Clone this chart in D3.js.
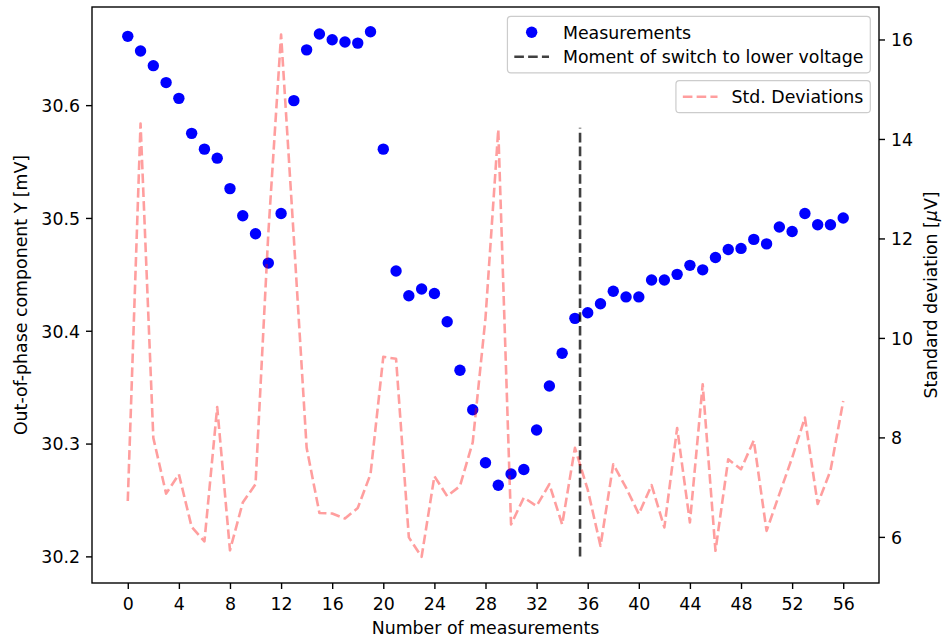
<!DOCTYPE html>
<html>
<head>
<meta charset="utf-8">
<script src="https://cdn.jsdelivr.net/npm/d3@7"></script>
<style>
  body { margin: 0; background: #fff; }
  svg text { font-family: "DejaVu Sans", sans-serif; }
</style>
</head>
<body>
<svg id="chart" width="942" height="639"></svg>
<script>
// Out-of-phase component Y per measurement [mV]
const measurements = [
  30.661, 30.648, 30.635, 30.620, 30.606, 30.575, 30.561, 30.553, 30.526, 30.502,
  30.486, 30.460, 30.504, 30.604, 30.649, 30.663, 30.658, 30.656, 30.655, 30.665,
  30.561, 30.453, 30.431, 30.437, 30.433, 30.408, 30.365, 30.330, 30.283, 30.263,
  30.273, 30.277, 30.312, 30.351, 30.380, 30.411, 30.416, 30.424, 30.435, 30.430,
  30.430, 30.445, 30.445, 30.450, 30.458, 30.454, 30.465, 30.472, 30.473, 30.481,
  30.477, 30.492, 30.488, 30.504, 30.494, 30.494, 30.500
];

// Standard deviation per measurement [µV]
const stdDeviations = [
  6.72, 14.31, 7.99, 6.87, 7.26, 6.20, 5.91, 8.61, 5.73, 6.69,
  7.06, 12.1, 16.1, 12.0, 7.79, 6.48, 6.47, 6.37, 6.58, 7.26,
  9.62, 9.58, 5.99, 5.60, 7.22, 6.82, 7.02, 7.90, 10.4, 14.19,
  6.25, 6.79, 6.62, 7.06, 6.25, 7.79, 6.95, 5.82, 7.46, 6.99,
  6.46, 7.04, 6.19, 8.19, 6.29, 9.07, 5.72, 7.56, 7.36, 7.94,
  6.12, 6.86, 7.59, 8.40, 6.66, 7.33, 8.73
];

// Moment of the switch to the lower voltage, and the vertical extent of its marker [mV]
const switchAt = 35.4;
const switchSpan = [30.2, 30.58];

const xTicks = [0, 4, 8, 12, 16, 20, 24, 28, 32, 36, 40, 44, 48, 52, 56];
const yTicks = [30.2, 30.3, 30.4, 30.5, 30.6];
const y2Ticks = [6, 8, 10, 12, 14, 16];

const xLimits = [-2.8, 58.8];
const yLimits = [30.1764, 30.687];
const y2Limits = [5.073, 16.653];

const W = 942, H = 639;
const m = { left: 92, right: 63, top: 7, bottom: 56 };
const FS = 17.36;          // 10pt text
const LW = 1.39;           // spine / tick width
const DASH = "9.6,4.2";

const x = d3.scaleLinear().domain(xLimits).range([m.left, W - m.right]);
const y = d3.scaleLinear().domain(yLimits).range([H - m.bottom, m.top]);
const y2 = d3.scaleLinear().domain(y2Limits).range([H - m.bottom, m.top]);

const svg = d3.select("#chart");

// measurement points
svg.append("g").selectAll("circle")
  .data(measurements)
  .join("circle")
  .attr("cx", (d, i) => x(i))
  .attr("cy", d => y(d))
  .attr("r", 5.7)
  .attr("fill", "#0000ff");

// switch marker
svg.append("line")
  .attr("x1", x(switchAt)).attr("x2", x(switchAt))
  .attr("y1", y(switchSpan[0])).attr("y2", y(switchSpan[1]))
  .attr("stroke", "#000").attr("stroke-opacity", 0.75)
  .attr("stroke-width", 2.6).attr("stroke-dasharray", DASH);

// standard deviation curve on the secondary axis
const stdLine = d3.line().x((d, i) => x(i)).y(d => y2(d));
svg.append("path")
  .datum(stdDeviations)
  .attr("d", stdLine)
  .attr("fill", "none")
  .attr("stroke", "#ff0000").attr("stroke-opacity", 0.38)
  .attr("stroke-width", 2.6).attr("stroke-dasharray", DASH)
  .attr("stroke-linejoin", "round");

function styleAxis(g) {
  g.select(".domain").remove();
  g.selectAll(".tick line").attr("stroke", "#000").attr("stroke-width", LW);
  g.selectAll(".tick text").attr("fill", "#000").attr("font-size", FS)
    .attr("font-family", "DejaVu Sans");
}

svg.append("g")
  .attr("transform", `translate(0,${H - m.bottom})`)
  .call(d3.axisBottom(x).tickValues(xTicks).tickSize(6).tickPadding(6).tickFormat(d3.format("d")))
  .call(styleAxis)
  .selectAll(".tick text").attr("dy", "0.84em");

svg.append("g")
  .attr("transform", `translate(${m.left},0)`)
  .call(d3.axisLeft(y).tickValues(yTicks).tickSize(6).tickPadding(6).tickFormat(d3.format(".1f")))
  .call(styleAxis)
  .selectAll(".tick text").attr("dy", "0.36em");

svg.append("g")
  .attr("transform", `translate(${W - m.right},0)`)
  .call(d3.axisRight(y2).tickValues(y2Ticks).tickSize(6).tickPadding(6).tickFormat(d3.format("d")))
  .call(styleAxis)
  .selectAll(".tick text").attr("dy", "0.36em");

// axes frame
svg.append("rect")
  .attr("x", m.left).attr("y", m.top)
  .attr("width", W - m.left - m.right).attr("height", H - m.top - m.bottom)
  .attr("fill", "none").attr("stroke", "#000").attr("stroke-width", LW);

// axis titles
const midY = (m.top + H - m.bottom) / 2;
svg.append("text")
  .attr("x", (m.left + W - m.right) / 2).attr("y", 634)
  .attr("text-anchor", "middle").attr("font-size", FS).attr("fill", "#000")
  .text("Number of measurements");

svg.append("text")
  .attr("transform", `translate(27,${midY}) rotate(-90)`)
  .attr("text-anchor", "middle").attr("font-size", FS).attr("fill", "#000")
  .text("Out-of-phase component Y [mV]");

const rightTitle = svg.append("text")
  .attr("transform", `translate(937,${midY}) rotate(-90)`)
  .attr("text-anchor", "middle").attr("font-size", FS).attr("fill", "#000");
rightTitle.append("tspan").text("Standard deviation [");
rightTitle.append("tspan").attr("font-style", "italic").text("μ");
rightTitle.append("tspan").text("V]");

// legends
function legend(entries, top, rowGap) {
  const right = W - m.right - 8.7;
  const pad = 6.9, handleLen = 34.7, textPad = 13.9;
  const g = svg.append("g");
  const box = g.append("rect");
  const texts = entries.map((e, k) => {
    const cy = top + 16 + k * rowGap;
    return { e, cy, t: g.append("text").attr("font-size", FS).attr("fill", "#000")
      .attr("y", cy + 6.3).text(e.label) };
  });
  const tw = d3.max(texts, d => d.t.node().getComputedTextLength());
  const width = pad * 2 + handleLen + textPad + tw;
  const left = right - width;
  const hx0 = left + pad, hx1 = hx0 + handleLen;
  texts.forEach(({ e, cy, t }) => {
    t.attr("x", hx1 + textPad);
    if (e.kind === "dot") {
      g.append("circle").attr("cx", (hx0 + hx1) / 2).attr("cy", cy).attr("r", 5.7).attr("fill", e.color);
    } else {
      g.append("line").attr("x1", hx0).attr("x2", hx1).attr("y1", cy).attr("y2", cy)
        .attr("stroke", e.color).attr("stroke-opacity", e.opacity)
        .attr("stroke-width", 2.6).attr("stroke-dasharray", DASH);
    }
  });
  const height = 32 + (entries.length - 1) * rowGap;
  box.attr("x", left).attr("y", top).attr("width", width).attr("height", height)
    .attr("rx", 3.5).attr("fill", "#fff").attr("fill-opacity", 0.8)
    .attr("stroke", "#cccccc").attr("stroke-width", 1.2);
}

legend([
  { label: "Measurements", kind: "dot", color: "#0000ff" },
  { label: "Moment of switch to lower voltage", kind: "dash", color: "#000", opacity: 0.75 }
], 16.3, 24.5);

legend([
  { label: "Std. Deviations", kind: "dash", color: "#ff0000", opacity: 0.38 }
], 80.7, 24.5);
</script>
</body>
</html>
